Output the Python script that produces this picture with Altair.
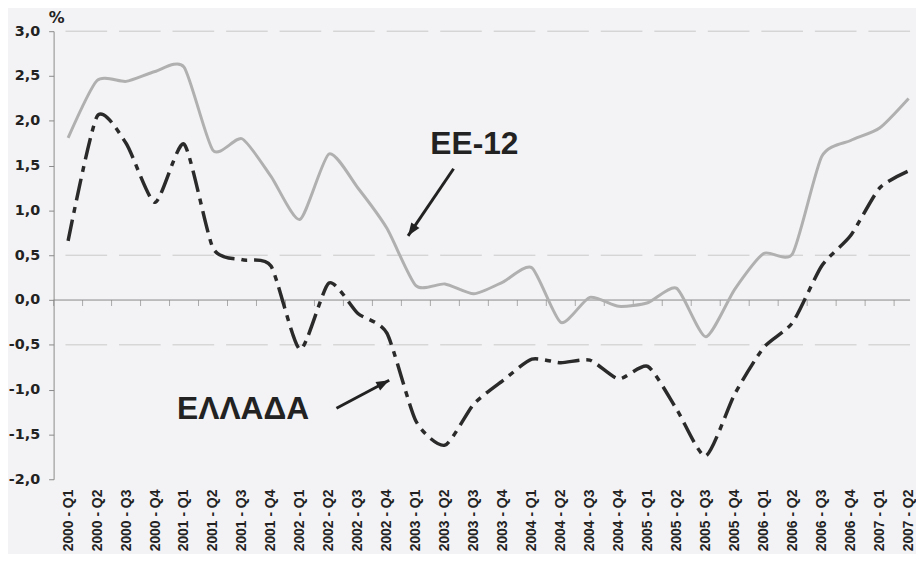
import altair as alt
import pandas as pd

categories = [
    "2000 - Q1", "2000 - Q2", "2000 - Q3", "2000 - Q4",
    "2001 - Q1", "2001 - Q2", "2001 - Q3", "2001 - Q4",
    "2002 - Q1", "2002 - Q2", "2002 - Q3", "2002 - Q4",
    "2003 - Q1", "2003 - Q2", "2003 - Q3", "2003 - Q4",
    "2004 - Q1", "2004 - Q2", "2004 - Q3", "2004 - Q4",
    "2005 - Q1", "2005 - Q2", "2005 - Q3", "2005 - Q4",
    "2006 - Q1", "2006 - Q2", "2006 - Q3", "2006 - Q4",
    "2007 - Q1", "2007 - Q2",
]

ee12 = [1.81, 2.45, 2.44, 2.55, 2.60, 1.67, 1.80, 1.38, 0.90, 1.63,
        1.25, 0.80, 0.16, 0.18, 0.07, 0.20, 0.36, -0.25, 0.03, -0.07,
        -0.03, 0.13, -0.41, 0.12, 0.52, 0.52, 1.60, 1.78, 1.92, 2.25]

greece = [0.66, 2.05, 1.75, 1.09, 1.74, 0.58, 0.45, 0.38, -0.55, 0.19,
          -0.15, -0.37, -1.35, -1.62, -1.16, -0.90, -0.66, -0.70, -0.67, -0.88,
          -0.74, -1.22, -1.74, -1.05, -0.53, -0.25, 0.38, 0.72, 1.25, 1.44]

y_ticks = [-2.0, -1.5, -1.0, -0.5, 0.0, 0.5, 1.0, 1.5, 2.0, 2.5, 3.0]
grid_values = [3.0, 0.5, -0.5]
x_tick_marks = [k + 0.5 for k in range(-1, 29)]

# annotations: labels and arrows (in data coordinates)
labels_text = ["EE-12", "ΕΛΛΑΔΑ"]
labels_x = [14.02, 6.04]
labels_y = [1.74, -1.22]
arrow_x_start = [13.30, 9.26]
arrow_y_start = [1.465, -1.208]
arrow_x_tip = [11.73, 11.08]
arrow_y_tip = [0.716, -0.895]
arrow_angle = [214.5, 62.2]

idx = list(range(len(categories)))
df = pd.DataFrame({"i": idx, "cat": categories, "ee12": ee12, "gr": greece})

x_scale = alt.Scale(domain=[-0.5, 29.05], nice=False, zero=False)
y_scale = alt.Scale(domain=[-2, 3], nice=False, zero=False)

label_expr = "[" + ",".join("'%s'" % c for c in categories) + "][datum.value]"

x_axis = alt.Axis(
    values=idx, labelExpr=label_expr, labelAngle=-90, labelOverlap=False,
    labelFont="Liberation Sans", labelFontWeight="bold", labelFontSize=14,
    labelColor="#222222", domain=False, ticks=False, grid=False,
    labelPadding=10, title=None, labelAlign="right", labelBaseline="middle",
)
y_axis = alt.Axis(
    values=y_ticks,
    labelExpr="replace(replace(format(datum.value, '.1f'), '.', ','), '\u2212', '-')",
    labelFont="DejaVu Sans", labelFontWeight="bold", labelFontSize=14.5,
    labelColor="#222222", domainColor="#8a8a8a", tickColor="#8a8a8a",
    tickSize=5, labelPadding=9, grid=False, title=None, labelOverlap=False,
)


def X(field):
    return alt.X(field, scale=x_scale, axis=x_axis, title=None)


def Y(field):
    return alt.Y(field, scale=y_scale, axis=y_axis, title=None)


base = alt.Chart(df)

grid = alt.Chart(pd.DataFrame({"g": grid_values})).mark_rule(
    color="#c8c8c8", strokeWidth=1, strokeDash=[42, 12]
).encode(y=Y("g:Q"))

zero = alt.Chart(pd.DataFrame({"z": [0.0]})).mark_rule(
    color="#8a8a8a", strokeWidth=1
).encode(y=Y("z:Q"))

ticks = alt.Chart(pd.DataFrame({"t": x_tick_marks, "z": [0.0] * len(x_tick_marks)})).mark_tick(
    orient="vertical", size=6, thickness=1, color="#8a8a8a", yOffset=3
).encode(x=X("t:Q"), y=Y("z:Q"))

ee_line = base.mark_line(
    color="#b0b0b0", strokeWidth=3, interpolate="cardinal", tension=0.35
).encode(x=X("i:Q"), y=Y("ee12:Q"))

gr_line = base.mark_line(
    color="#2a2a2a", strokeWidth=3.5, strokeDash=[22, 7, 6, 7],
    interpolate="cardinal", tension=0.35,
).encode(x=X("i:Q"), y=Y("gr:Q"))

ann = pd.DataFrame({
    "txt": labels_text, "tx": labels_x, "ty": labels_y,
    "x1": arrow_x_start, "y1": arrow_y_start,
    "x2": arrow_x_tip, "y2": arrow_y_tip, "ang": arrow_angle,
})

arrows = alt.Chart(ann).mark_rule(color="#222222", strokeWidth=3).encode(
    x=X("x1:Q"), y=Y("y1:Q"), x2="x2:Q", y2="y2:Q",
)

heads = alt.Chart(ann).mark_point(
    shape="M0,0L0.42,1.1L-0.42,1.1Z", filled=True, opacity=1, color="#222222", size=560
).encode(
    x=X("x2:Q"), y=Y("y2:Q"),
    angle=alt.Angle("ang:Q", scale=None),
)

texts = alt.Chart(ann).mark_text(
    font="Liberation Sans", fontWeight="bold", fontSize=32, color="#222222",
    align="center", baseline="middle",
).encode(x=X("tx:Q"), y=Y("ty:Q"), text="txt:N")

pct = alt.Chart(pd.DataFrame({"px": [-0.5], "py": [3.0], "s": ["%"]})).mark_text(
    font="DejaVu Sans", fontWeight="bold", fontSize=16, color="#222222",
    align="center", baseline="middle", dx=3, dy=-13,
).encode(x=X("px:Q"), y=Y("py:Q"), text="s:N")

chart = alt.layer(grid, zero, ticks, ee_line, gr_line, arrows, heads, texts, pct).properties(
    width=864, height=452,
    padding={"left": 0, "top": 0, "right": 0, "bottom": 0},
    background="#f3f3f5",
).configure_view(stroke=None).configure_axis(labelOverlap=False)

chart.save("out.html", embed_options={"renderer": "svg", "actions": False})
